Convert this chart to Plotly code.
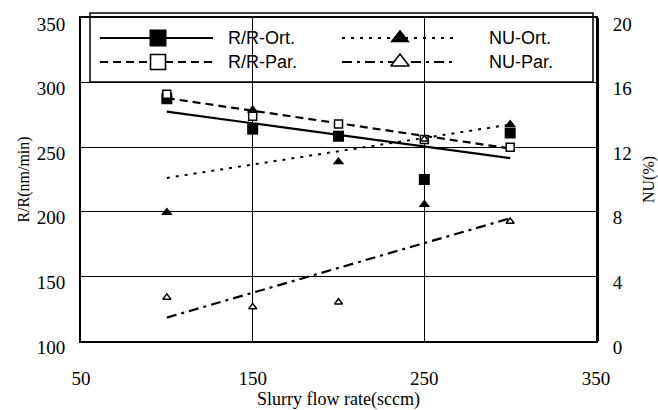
import plotly.graph_objects as go

# ---- data ----
flow = [100, 150, 200, 250, 300]
rr_ort = [287.5, 264, 258.5, 225, 261]
rr_par = [291, 274, 268, 256, 250]
nu_ort = [7.95, 14.3, 11.1, 8.45, 13.4]
nu_par = [2.7, 2.1, 2.4, 12.5, 7.4]

# trend lines (end values)
trend_x = [100, 300]
rr_ort_trend = [277.5, 241.5]
rr_par_trend = [288, 249]
nu_ort_trend = [10.1, 13.4]
nu_par_trend = [1.45, 7.6]

x_ticks = [50, 150, 250, 350]
left_ticks = [100, 150, 200, 250, 300, 350]
right_ticks = [0, 4, 8, 12, 16, 20]

legend_names = ["R/R-Ort.", "R/R-Par.", "NU-Ort.", "NU-Par."]

serif = "Liberation Serif"
sans = "Liberation Sans"

W, H = 658, 410
L, R, T, B = 81, 62, 18, 69
PW, PH = W - L - R, H - T - B


def px(p):
    return (p - L) / PW


def py(p):
    return (H - B - p) / PH


fig = go.Figure()

styles = [
    dict(dash="solid", width=2.2),
    dict(dash="8px,5px", width=2.2),
    dict(dash="3px,6px", width=2),
    dict(dash="10px,5px,3px,5px", width=2.2),
]

# trend lines
fig.add_trace(go.Scatter(x=trend_x, y=rr_ort_trend, mode="lines",
                         line=dict(color="black", **styles[0]), yaxis="y"))
fig.add_trace(go.Scatter(x=trend_x, y=rr_par_trend, mode="lines",
                         line=dict(color="black", **styles[1]), yaxis="y"))
fig.add_trace(go.Scatter(x=trend_x, y=nu_ort_trend, mode="lines",
                         line=dict(color="black", **styles[2]), yaxis="y2"))
fig.add_trace(go.Scatter(x=trend_x, y=nu_par_trend, mode="lines",
                         line=dict(color="black", **styles[3]), yaxis="y2"))

# markers
fig.add_trace(go.Scatter(x=flow, y=nu_ort, mode="markers", yaxis="y2",
                         marker=dict(symbol="triangle-up", size=10, color="black")))
fig.add_trace(go.Scatter(x=flow, y=nu_par, mode="markers", yaxis="y2",
                         marker=dict(symbol="triangle-up", size=7, color="white",
                                     line=dict(color="black", width=1.5))))
fig.add_trace(go.Scatter(x=flow, y=rr_ort, mode="markers", yaxis="y",
                         marker=dict(symbol="square", size=11, color="black")))
fig.add_trace(go.Scatter(x=flow, y=rr_par, mode="markers", yaxis="y",
                         marker=dict(symbol="square", size=8, color="white",
                                     line=dict(color="black", width=1.5))))

# ---- manual legend on an overlay pixel axis ----
leg_rows = [(38, 62), (38, 62)]
leg_cols = [(100, 213, 158, 226), (342, 457, 400, 487)]
leg_markers = [
    dict(symbol="square", size=17, color="black"),
    dict(symbol="square", size=15, color="white", line=dict(color="black", width=1.6)),
    dict(symbol="triangle-up", size=17, color="black"),
    dict(symbol="triangle-up", size=16, color="white", line=dict(color="black", width=1.6)),
]
for i, name in enumerate(legend_names):
    col = leg_cols[i // 2]
    yy = leg_rows[i // 2][i % 2]
    fig.add_trace(go.Scatter(x=[col[0], col[1]], y=[yy, yy], mode="lines",
                             line=dict(color="black", **styles[i]),
                             xaxis="x3", yaxis="y3"))
    fig.add_trace(go.Scatter(x=[col[2]], y=[yy], mode="markers",
                             marker=leg_markers[i], xaxis="x3", yaxis="y3"))
    fig.add_annotation(x=col[3], y=yy, xref="x3", yref="y3", text=name,
                       showarrow=False, xanchor="left", yanchor="middle",
                       font=dict(family=sans, size=18, color="black"))

fig.add_shape(type="rect", xref="paper", yref="paper",
              x0=px(90), x1=px(593), y0=py(82), y1=py(13),
              line=dict(color="black", width=1.5), fillcolor="white", layer="below")

fig.update_layout(
    width=W, height=H,
    margin=dict(l=L, r=R, t=T, b=B, autoexpand=False),
    paper_bgcolor="white", plot_bgcolor="white",
    showlegend=False,
    xaxis=dict(range=[50, 350], tickvals=x_ticks, showgrid=True, automargin=False,
               gridcolor="black", gridwidth=1, zeroline=False,
               showline=True, linecolor="black", linewidth=2, mirror=True,
               ticks="", ticklabelstandoff=19,
               tickfont=dict(family=serif, size=19, color="black"),
               title=dict(text="Slurry flow rate(sccm)", standoff=22,
                          font=dict(family=serif, size=18, color="black"))),
    yaxis=dict(range=[100, 350], tickvals=left_ticks, showgrid=True, automargin=False,
               gridcolor="black", gridwidth=1, zeroline=False,
               showline=True, linecolor="black", linewidth=2, mirror=True,
               ticks="", ticklabelstandoff=10, ticklabelshift=6,
               tickfont=dict(family=serif, size=19, color="black"),
               title=dict(text="R/R(nm/min)", standoff=3,
                          font=dict(family=serif, size=16, color="black"))),
    yaxis2=dict(range=[0, 20], tickvals=right_ticks, overlaying="y", side="right",
                automargin=False,
                showgrid=False, zeroline=False, showline=True, linecolor="black",
                linewidth=3, ticks="", ticklabelstandoff=10, ticklabelshift=6,
                tickfont=dict(family=serif, size=19, color="black"),
                title=dict(text="NU(%)", standoff=31,
                           font=dict(family=serif, size=16, color="black"))),
    xaxis3=dict(domain=[0, 1], range=[L, W - R], visible=False, fixedrange=True,
                anchor="y3", overlaying="x"),
    yaxis3=dict(domain=[0, 1], range=[H - B, T], visible=False, fixedrange=True,
                anchor="x3", overlaying="y"),
)

fig.write_html("out.html")
